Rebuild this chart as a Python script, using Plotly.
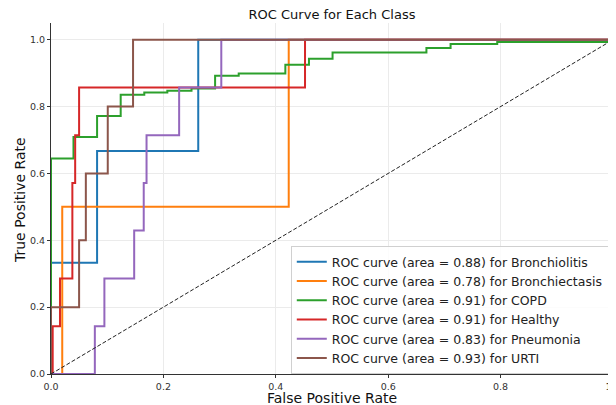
import plotly.graph_objects as go

classes = ["Bronchiolitis", "Bronchiectasis", "COPD", "Healthy", "Pneumonia", "URTI"]
aucs = [0.88, 0.78, 0.91, 0.91, 0.83, 0.93]
colors = ["#1f77b4", "#ff7f0e", "#2ca02c", "#d62728", "#9467bd", "#8c564b"]

fpr_bronchiolitis = [0, 0, 0.082, 0.082, 0.262, 0.262, 1.0]
tpr_bronchiolitis = [0, 0.333, 0.333, 0.667, 0.667, 1.0, 1.0]

fpr_bronchiectasis = [0, 0.020, 0.020, 0.423, 0.423, 1.0]
tpr_bronchiectasis = [0, 0, 0.5, 0.5, 1.0, 1.0]

fpr_copd = [0, 0, 0.040, 0.040, 0.082, 0.082, 0.124, 0.124, 0.166, 0.166, 0.207, 0.207,
            0.250, 0.250, 0.292, 0.292, 0.334, 0.334, 0.417, 0.417, 0.459, 0.459,
            0.501, 0.501, 0.668, 0.668, 0.711, 0.711, 0.794, 0.794, 1.0, 1.0]
tpr_copd = [0, 0.645, 0.645, 0.709, 0.709, 0.772, 0.772, 0.835, 0.835, 0.842, 0.842, 0.847,
            0.847, 0.854, 0.854, 0.892, 0.892, 0.899, 0.899, 0.925, 0.925, 0.943,
            0.943, 0.962, 0.962, 0.975, 0.975, 0.987, 0.987, 0.993, 0.993, 1.0]

fpr_healthy = [0, 0.003, 0.003, 0.016, 0.016, 0.038, 0.038, 0.043, 0.043, 0.050, 0.050,
               0.452, 0.452, 1.0]
tpr_healthy = [0, 0, 0.143, 0.143, 0.286, 0.286, 0.571, 0.571, 0.714, 0.714, 0.857,
               0.857, 1.0, 1.0]

fpr_pneumonia = [0, 0.078, 0.078, 0.095, 0.095, 0.148, 0.148, 0.165, 0.165, 0.170, 0.170,
                 0.228, 0.228, 0.303, 0.303, 1.0]
tpr_pneumonia = [0, 0, 0.143, 0.143, 0.286, 0.286, 0.429, 0.429, 0.571, 0.571, 0.714,
                 0.714, 0.857, 0.857, 1.0, 1.0]

fpr_urti = [0, 0, 0.050, 0.050, 0.062, 0.062, 0.101, 0.101, 0.146, 0.146, 1.0]
tpr_urti = [0, 0.2, 0.2, 0.4, 0.4, 0.6, 0.6, 0.8, 0.8, 1.0, 1.0]

fprs = [fpr_bronchiolitis, fpr_bronchiectasis, fpr_copd, fpr_healthy, fpr_pneumonia, fpr_urti]
tprs = [tpr_bronchiolitis, tpr_bronchiectasis, tpr_copd, tpr_healthy, tpr_pneumonia, tpr_urti]

diag = [0, 1]
x_ticks = [0.0, 0.2, 0.4, 0.6, 0.8, 1.0]
y_ticks = [0.0, 0.2, 0.4, 0.6, 0.8, 1.0]

FONT = "DejaVu Sans"
W, H = 616, 405
OFF = 8  # default page body margin offsets the figure
# desired plot area in page pixels
PX0, PX1, PY0, PY1 = 51, 613.5, 23, 374
PW, PH = PX1 - PX0, PY1 - PY0
ML = PX0 - OFF
MT = PY0 - OFF
MR = W - ML - PW
MB = H - MT - PH


def px_to_paper_x(px):
    return (px - PX0) / PW


def py_to_paper_y(py):
    return (PY1 - py) / PH


fig = go.Figure()
for name, auc, col, fx, ty in zip(classes, aucs, colors, fprs, tprs):
    fig.add_trace(go.Scatter(
        x=fx, y=ty, mode="lines",
        line=dict(color=col, width=2),
        name=f"ROC curve (area = {auc:.2f}) for {name}",
    ))

fig.add_trace(go.Scatter(
    x=diag, y=diag, mode="lines",
    line=dict(color="#222", width=1, dash="4px,2px"),
    showlegend=False,
))

fig.update_layout(
    width=W, height=H,
    margin=dict(l=ML, r=MR, t=MT, b=MB, autoexpand=False),
    paper_bgcolor="white", plot_bgcolor="white",
    font=dict(family=FONT, color="#222"),
    title=dict(text="ROC Curve for Each Class", x=0.5, xref="paper", xanchor="center",
               y=1 - (14.5 - OFF) / H, yanchor="middle", yref="container",
               font=dict(size=13, family=FONT, color="#111")),
    legend=dict(x=px_to_paper_x(291), xanchor="left", y=py_to_paper_y(246), yanchor="top",
                bgcolor="rgba(255,255,255,0.85)", bordercolor="#d0d0d0", borderwidth=1,
                font=dict(size=12.5, family=FONT, color="#222"),
                tracegroupgap=0, itemwidth=30),
    showlegend=True,
    annotations=[
        dict(text="False Positive Rate", xref="paper", yref="paper",
             x=0.5, y=py_to_paper_y(398), xanchor="center", yanchor="middle",
             showarrow=False, font=dict(size=14, family=FONT, color="#111")),
        dict(text="True Positive Rate", xref="paper", yref="paper",
             x=px_to_paper_x(20), y=py_to_paper_y(200), xanchor="center", yanchor="middle",
             textangle=-90, showarrow=False, font=dict(size=14, family=FONT, color="#111")),
    ],
)

fig.update_xaxes(
    range=[0, 1.0], tickvals=x_ticks, ticktext=[f"{v:.1f}" for v in x_ticks],
    showgrid=True, gridcolor="#ebebeb", gridwidth=1,
    showline=True, linecolor="#333", linewidth=1.2,
    ticks="outside", ticklen=3, tickcolor="#333",
    tickfont=dict(size=9.5, family=FONT, color="#333"),
    zeroline=False, automargin=False,
)
fig.update_yaxes(
    range=[0, 1.05], tickvals=y_ticks, ticktext=[f"{v:.1f}" for v in y_ticks],
    showgrid=True, gridcolor="#ebebeb", gridwidth=1,
    showline=True, linecolor="#333", linewidth=1.2,
    ticks="outside", ticklen=3, tickcolor="#333",
    tickfont=dict(size=9.5, family=FONT, color="#333"),
    zeroline=False, automargin=False,
)

fig.write_html("out.html")
